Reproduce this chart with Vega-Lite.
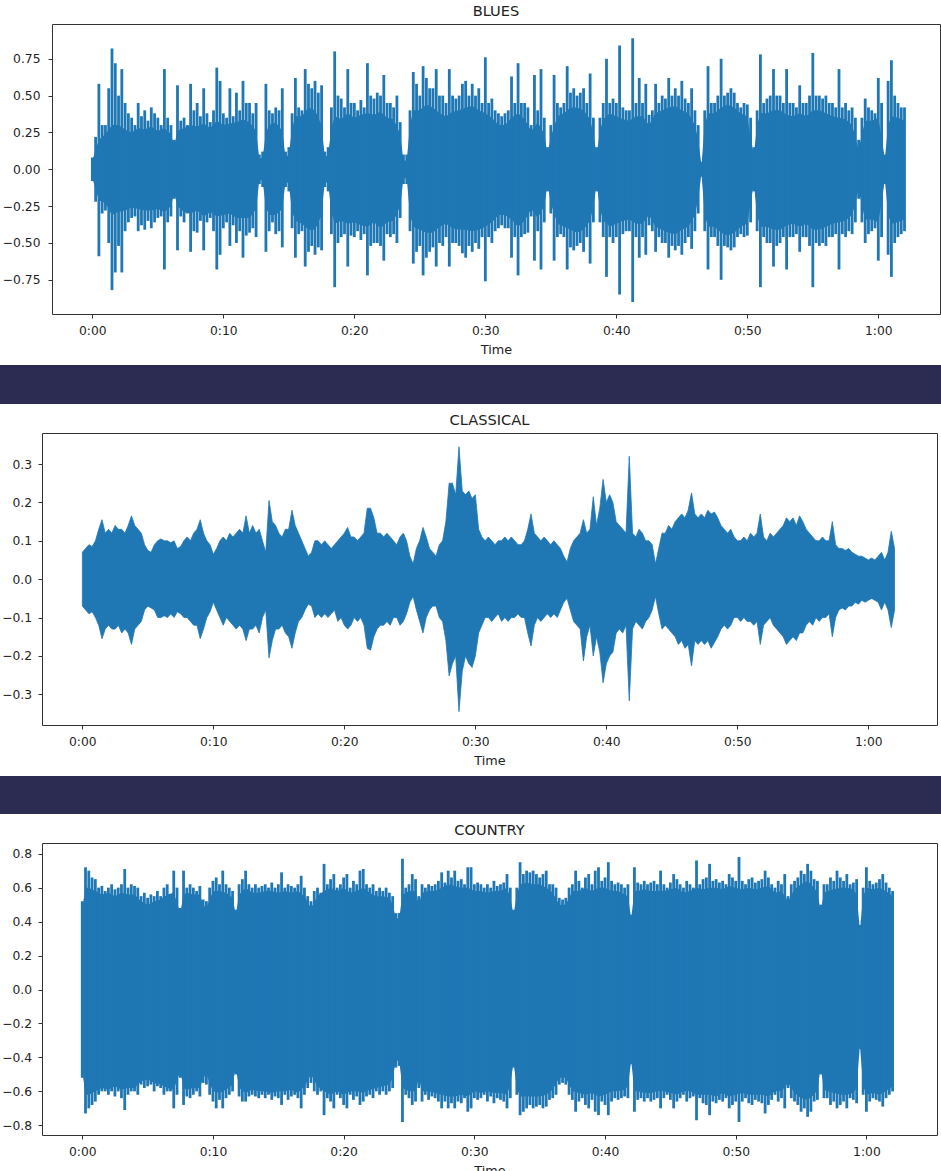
{
"$schema":"https://vega.github.io/schema/vega-lite/v6.json",
"padding":{"left":0,"top":3,"right":0,"bottom":0},
"background":"white",
"spacing":8,
"config":{
 "view":{"stroke":"#333333","strokeWidth":1},
 "axis":{"labelFont":"DejaVu Sans","labelFontSize":12.3,"labelColor":"#222222","titleFont":"DejaVu Sans","titleFontSize":12.8,"titleFontWeight":"normal","titleColor":"#222222","tickColor":"#333333","tickSize":4,"domain":false,"grid":false},
 "axisX":{"labelPadding":6,"titlePadding":7},
 "title":{"font":"DejaVu Sans","fontSize":14.6,"fontWeight":"normal","color":"#222222","offset":5,"baseline":"alphabetic","anchor":"middle"}
},
"datasets":{
"bluescore":[
{"t":0,"c":0.06,"n":-0.06},{"t":0.5,"c":0.2,"n":-0.21},{"t":1,"c":0.24,"n":-0.23},{"t":1.5,"c":0.3,"n":-0.31},{"t":2,"c":0.3,"n":-0.29},{"t":2.5,"c":0.27,"n":-0.28},{"t":3,"c":0.25,"n":-0.26},{"t":3.5,"c":0.28,"n":-0.27},{"t":4,"c":0.27,"n":-0.28},{"t":4.5,"c":0.29,"n":-0.28},{"t":5,"c":0.26,"n":-0.27},{"t":5.5,"c":0.28,"n":-0.29},{"t":6,"c":0.24,"n":-0.25},{"t":6.25,"c":0.16,"n":-0.16},{"t":6.5,"c":0.26,"n":-0.25},{"t":7,"c":0.28,"n":-0.29},{"t":7.5,"c":0.3,"n":-0.3},{"t":8,"c":0.29,"n":-0.28},{"t":8.5,"c":0.31,"n":-0.32},{"t":9,"c":0.28,"n":-0.29},{"t":9.5,"c":0.33,"n":-0.32},{"t":10,"c":0.3,"n":-0.31},{"t":10.5,"c":0.31,"n":-0.3},{"t":11,"c":0.32,"n":-0.33},{"t":11.5,"c":0.34,"n":-0.33},{"t":12,"c":0.32,"n":-0.33},{"t":12.5,"c":0.26,"n":-0.27},{"t":12.75,"c":0.07,"n":-0.07},{"t":13,"c":0.08,"n":-0.08},{"t":13.25,"c":0.25,"n":-0.26},{"t":13.5,"c":0.3,"n":-0.31},{"t":14,"c":0.32,"n":-0.31},{"t":14.5,"c":0.26,"n":-0.27},{"t":14.75,"c":0.08,"n":-0.08},{"t":15,"c":0.1,"n":-0.1},{"t":15.25,"c":0.28,"n":-0.29},{"t":15.5,"c":0.36,"n":-0.35},{"t":16,"c":0.36,"n":-0.37},{"t":16.5,"c":0.42,"n":-0.41},{"t":17,"c":0.4,"n":-0.41},{"t":17.5,"c":0.3,"n":-0.31},{"t":17.75,"c":0.08,"n":-0.08},{"t":18,"c":0.1,"n":-0.1},{"t":18.25,"c":0.28,"n":-0.29},{"t":18.5,"c":0.36,"n":-0.37},{"t":19,"c":0.34,"n":-0.35},{"t":19.5,"c":0.38,"n":-0.37},{"t":20,"c":0.35,"n":-0.36},{"t":20.5,"c":0.37,"n":-0.38},{"t":21,"c":0.38,"n":-0.39},{"t":21.5,"c":0.37,"n":-0.36},{"t":22,"c":0.39,"n":-0.4},{"t":22.5,"c":0.35,"n":-0.36},{"t":23,"c":0.34,"n":-0.35},{"t":23.5,"c":0.24,"n":-0.25},{"t":23.75,"c":0.06,"n":-0.06},{"t":24,"c":0.06,"n":-0.06},{"t":24.25,"c":0.3,"n":-0.31},{"t":24.5,"c":0.4,"n":-0.39},{"t":25,"c":0.4,"n":-0.41},{"t":25.5,"c":0.44,"n":-0.43},{"t":26,"c":0.42,"n":-0.43},{"t":26.5,"c":0.38,"n":-0.39},{"t":27,"c":0.36,"n":-0.37},{"t":27.5,"c":0.39,"n":-0.4},{"t":28,"c":0.4,"n":-0.41},{"t":28.5,"c":0.42,"n":-0.41},{"t":29,"c":0.43,"n":-0.42},{"t":29.5,"c":0.4,"n":-0.41},{"t":30,"c":0.38,"n":-0.39},{"t":30.5,"c":0.35,"n":-0.36},{"t":31,"c":0.3,"n":-0.31},{"t":31.5,"c":0.3,"n":-0.31},{"t":32,"c":0.35,"n":-0.34},{"t":32.5,"c":0.38,"n":-0.39},{"t":33,"c":0.34,"n":-0.35},{"t":33.5,"c":0.26,"n":-0.27},{"t":34,"c":0.32,"n":-0.33},{"t":34.5,"c":0.24,"n":-0.25},{"t":34.75,"c":0.1,"n":-0.1},{"t":35,"c":0.22,"n":-0.23},{"t":35.5,"c":0.36,"n":-0.37},{"t":36,"c":0.38,"n":-0.39},{"t":36.5,"c":0.42,"n":-0.41},{"t":37,"c":0.42,"n":-0.43},{"t":37.5,"c":0.4,"n":-0.41},{"t":38,"c":0.34,"n":-0.35},{"t":38.25,"c":0.24,"n":-0.25},{"t":38.5,"c":0.1,"n":-0.1},{"t":38.75,"c":0.26,"n":-0.27},{"t":39,"c":0.34,"n":-0.35},{"t":39.5,"c":0.38,"n":-0.39},{"t":40,"c":0.36,"n":-0.37},{"t":40.5,"c":0.34,"n":-0.35},{"t":41,"c":0.33,"n":-0.34},{"t":41.5,"c":0.36,"n":-0.37},{"t":42,"c":0.36,"n":-0.37},{"t":42.5,"c":0.3,"n":-0.31},{"t":43,"c":0.38,"n":-0.39},{"t":43.5,"c":0.4,"n":-0.41},{"t":44,"c":0.42,"n":-0.43},{"t":44.5,"c":0.43,"n":-0.44},{"t":45,"c":0.4,"n":-0.41},{"t":45.5,"c":0.38,"n":-0.39},{"t":46,"c":0.3,"n":-0.31},{"t":46.25,"c":0.2,"n":-0.2},{"t":46.5,"c":0.03,"n":-0.03},{"t":46.75,"c":0.3,"n":-0.31},{"t":47,"c":0.38,"n":-0.39},{"t":47.5,"c":0.38,"n":-0.39},{"t":48,"c":0.42,"n":-0.43},{"t":48.5,"c":0.44,"n":-0.45},{"t":49,"c":0.42,"n":-0.43},{"t":49.5,"c":0.38,"n":-0.39},{"t":50,"c":0.36,"n":-0.37},{"t":50.25,"c":0.22,"n":-0.23},{"t":50.5,"c":0.1,"n":-0.1},{"t":50.75,"c":0.3,"n":-0.31},{"t":51,"c":0.38,"n":-0.39},{"t":51.5,"c":0.38,"n":-0.39},{"t":52,"c":0.4,"n":-0.41},{"t":52.5,"c":0.4,"n":-0.41},{"t":53,"c":0.37,"n":-0.38},{"t":53.5,"c":0.36,"n":-0.37},{"t":54,"c":0.38,"n":-0.39},{"t":54.5,"c":0.36,"n":-0.37},{"t":55,"c":0.4,"n":-0.41},{"t":55.5,"c":0.4,"n":-0.41},{"t":56,"c":0.38,"n":-0.39},{"t":56.5,"c":0.36,"n":-0.37},{"t":57,"c":0.35,"n":-0.36},{"t":57.5,"c":0.34,"n":-0.35},{"t":58,"c":0.3,"n":-0.31},{"t":58.25,"c":0.22,"n":-0.23},{"t":58.5,"c":0.13,"n":-0.13},{"t":58.75,"c":0.24,"n":-0.25},{"t":59,"c":0.33,"n":-0.34},{"t":59.5,"c":0.33,"n":-0.34},{"t":60,"c":0.35,"n":-0.36},{"t":60.25,"c":0.22,"n":-0.23},{"t":60.5,"c":0.07,"n":-0.07},{"t":60.75,"c":0.3,"n":-0.31},{"t":61,"c":0.36,"n":-0.37},{"t":61.5,"c":0.35,"n":-0.36},{"t":62,"c":0.33,"n":-0.34}
],
"countrycore":[
{"t":0,"c":0.48,"n":-0.48},{"t":0.25,"c":0.6,"n":-0.62},{"t":0.5,"c":0.6,"n":-0.62},{"t":1,"c":0.58,"n":-0.6},{"t":1.5,"c":0.56,"n":-0.58},{"t":2,"c":0.57,"n":-0.59},{"t":2.5,"c":0.55,"n":-0.57},{"t":3,"c":0.57,"n":-0.59},{"t":3.5,"c":0.56,"n":-0.58},{"t":4,"c":0.56,"n":-0.58},{"t":4.5,"c":0.52,"n":-0.54},{"t":5,"c":0.5,"n":-0.53},{"t":5.5,"c":0.52,"n":-0.55},{"t":6,"c":0.53,"n":-0.56},{"t":6.5,"c":0.56,"n":-0.58},{"t":7,"c":0.57,"n":-0.59},{"t":7.5,"c":0.45,"n":-0.48},{"t":7.75,"c":0.56,"n":-0.58},{"t":8,"c":0.57,"n":-0.59},{"t":8.5,"c":0.56,"n":-0.58},{"t":9,"c":0.56,"n":-0.58},{"t":9.25,"c":0.5,"n":-0.52},{"t":9.5,"c":0.48,"n":-0.5},{"t":10,"c":0.58,"n":-0.6},{"t":10.5,"c":0.58,"n":-0.61},{"t":11,"c":0.57,"n":-0.59},{"t":11.5,"c":0.54,"n":-0.56},{"t":11.75,"c":0.44,"n":-0.46},{"t":12,"c":0.56,"n":-0.58},{"t":12.5,"c":0.6,"n":-0.61},{"t":13,"c":0.57,"n":-0.59},{"t":13.5,"c":0.57,"n":-0.6},{"t":14,"c":0.58,"n":-0.6},{"t":14.5,"c":0.58,"n":-0.61},{"t":15,"c":0.57,"n":-0.6},{"t":15.5,"c":0.58,"n":-0.6},{"t":16,"c":0.57,"n":-0.59},{"t":16.5,"c":0.58,"n":-0.61},{"t":17,"c":0.55,"n":-0.57},{"t":17.5,"c":0.48,"n":-0.5},{"t":18,"c":0.55,"n":-0.57},{"t":18.5,"c":0.58,"n":-0.6},{"t":19,"c":0.6,"n":-0.62},{"t":19.5,"c":0.58,"n":-0.6},{"t":20,"c":0.6,"n":-0.62},{"t":20.5,"c":0.57,"n":-0.6},{"t":21,"c":0.58,"n":-0.6},{"t":21.5,"c":0.6,"n":-0.61},{"t":22,"c":0.57,"n":-0.59},{"t":22.5,"c":0.55,"n":-0.58},{"t":23,"c":0.55,"n":-0.57},{"t":23.5,"c":0.54,"n":-0.56},{"t":23.75,"c":0.5,"n":-0.52},{"t":24,"c":0.42,"n":-0.42},{"t":24.25,"c":0.42,"n":-0.42},{"t":24.5,"c":0.56,"n":-0.58},{"t":25,"c":0.58,"n":-0.6},{"t":25.5,"c":0.58,"n":-0.6},{"t":25.75,"c":0.5,"n":-0.52},{"t":26,"c":0.57,"n":-0.6},{"t":26.5,"c":0.58,"n":-0.6},{"t":27,"c":0.58,"n":-0.61},{"t":27.5,"c":0.6,"n":-0.62},{"t":28,"c":0.62,"n":-0.63},{"t":28.5,"c":0.61,"n":-0.63},{"t":29,"c":0.6,"n":-0.62},{"t":29.5,"c":0.6,"n":-0.63},{"t":30,"c":0.58,"n":-0.6},{"t":30.5,"c":0.58,"n":-0.61},{"t":31,"c":0.57,"n":-0.6},{"t":31.5,"c":0.58,"n":-0.61},{"t":32,"c":0.58,"n":-0.61},{"t":32.5,"c":0.6,"n":-0.62},{"t":32.75,"c":0.54,"n":-0.56},{"t":33,"c":0.44,"n":-0.43},{"t":33.25,"c":0.56,"n":-0.58},{"t":33.5,"c":0.62,"n":-0.63},{"t":34,"c":0.63,"n":-0.63},{"t":34.5,"c":0.62,"n":-0.63},{"t":35,"c":0.62,"n":-0.63},{"t":35.5,"c":0.6,"n":-0.62},{"t":36,"c":0.57,"n":-0.59},{"t":36.5,"c":0.5,"n":-0.52},{"t":37,"c":0.5,"n":-0.52},{"t":37.5,"c":0.58,"n":-0.6},{"t":38,"c":0.58,"n":-0.61},{"t":38.5,"c":0.6,"n":-0.62},{"t":39,"c":0.58,"n":-0.61},{"t":39.5,"c":0.6,"n":-0.63},{"t":40,"c":0.6,"n":-0.62},{"t":40.5,"c":0.58,"n":-0.6},{"t":41,"c":0.58,"n":-0.6},{"t":41.5,"c":0.56,"n":-0.59},{"t":41.75,"c":0.55,"n":-0.57},{"t":42,"c":0.42,"n":-0.42},{"t":42.25,"c":0.58,"n":-0.6},{"t":42.5,"c":0.58,"n":-0.6},{"t":43,"c":0.59,"n":-0.61},{"t":43.5,"c":0.58,"n":-0.61},{"t":44,"c":0.58,"n":-0.6},{"t":44.5,"c":0.58,"n":-0.6},{"t":45,"c":0.59,"n":-0.61},{"t":45.5,"c":0.6,"n":-0.62},{"t":46,"c":0.57,"n":-0.6},{"t":46.5,"c":0.58,"n":-0.6},{"t":47,"c":0.6,"n":-0.62},{"t":47.5,"c":0.59,"n":-0.62},{"t":48,"c":0.6,"n":-0.62},{"t":48.5,"c":0.6,"n":-0.63},{"t":49,"c":0.59,"n":-0.61},{"t":49.5,"c":0.61,"n":-0.63},{"t":50,"c":0.6,"n":-0.62},{"t":50.5,"c":0.59,"n":-0.61},{"t":51,"c":0.6,"n":-0.62},{"t":51.5,"c":0.59,"n":-0.62},{"t":52,"c":0.6,"n":-0.62},{"t":52.5,"c":0.61,"n":-0.63},{"t":53,"c":0.57,"n":-0.6},{"t":53.5,"c":0.58,"n":-0.6},{"t":54,"c":0.52,"n":-0.55},{"t":54.5,"c":0.59,"n":-0.61},{"t":55,"c":0.62,"n":-0.64},{"t":55.5,"c":0.64,"n":-0.65},{"t":56,"c":0.6,"n":-0.62},{"t":56.25,"c":0.57,"n":-0.59},{"t":56.5,"c":0.46,"n":-0.46},{"t":56.75,"c":0.57,"n":-0.59},{"t":57,"c":0.58,"n":-0.6},{"t":57.5,"c":0.59,"n":-0.61},{"t":58,"c":0.6,"n":-0.62},{"t":58.5,"c":0.6,"n":-0.62},{"t":59,"c":0.59,"n":-0.61},{"t":59.25,"c":0.56,"n":-0.58},{"t":59.5,"c":0.35,"n":-0.33},{"t":59.75,"c":0.55,"n":-0.57},{"t":60,"c":0.6,"n":-0.62},{"t":60.5,"c":0.59,"n":-0.61},{"t":61,"c":0.6,"n":-0.62},{"t":61.5,"c":0.58,"n":-0.6},{"t":62,"c":0.55,"n":-0.57}
],
"blues":[
{"t":0,"h":0.08,"l":-0.08},{"t":0.25,"h":0.22,"l":-0.22},{"t":0.5,"h":0.58,"l":-0.59},{"t":0.75,"h":0.3,"l":-0.3},
{"t":1,"h":0.3,"l":-0.28},{"t":1.25,"h":0.55,"l":-0.5},{"t":1.5,"h":0.82,"l":-0.82},{"t":1.75,"h":0.72,"l":-0.7},
{"t":2,"h":0.5,"l":-0.52},{"t":2.25,"h":0.68,"l":-0.7},{"t":2.5,"h":0.45,"l":-0.42},{"t":2.75,"h":0.38,"l":-0.36},
{"t":3,"h":0.35,"l":-0.33},{"t":3.25,"h":0.3,"l":-0.32},{"t":3.5,"h":0.45,"l":-0.42},{"t":3.75,"h":0.36,"l":-0.38},
{"t":4,"h":0.4,"l":-0.41},{"t":4.25,"h":0.33,"l":-0.35},{"t":4.5,"h":0.42,"l":-0.4},{"t":4.75,"h":0.38,"l":-0.36},
{"t":5,"h":0.35,"l":-0.33},{"t":5.25,"h":0.3,"l":-0.32},{"t":5.5,"h":0.68,"l":-0.68},{"t":5.75,"h":0.35,"l":-0.36},
{"t":6,"h":0.3,"l":-0.32},{"t":6.25,"h":0.2,"l":-0.2},{"t":6.5,"h":0.57,"l":-0.55},{"t":6.75,"h":0.33,"l":-0.32},
{"t":7,"h":0.35,"l":-0.36},{"t":7.25,"h":0.3,"l":-0.3},{"t":7.5,"h":0.58,"l":-0.56},{"t":7.75,"h":0.4,"l":-0.42},
{"t":8,"h":0.45,"l":-0.43},{"t":8.25,"h":0.36,"l":-0.35},{"t":8.5,"h":0.55,"l":-0.55},{"t":8.75,"h":0.38,"l":-0.36},
{"t":9,"h":0.32,"l":-0.33},{"t":9.25,"h":0.4,"l":-0.42},{"t":9.5,"h":0.69,"l":-0.68},{"t":9.75,"h":0.6,"l":-0.58},
{"t":10,"h":0.38,"l":-0.4},{"t":10.25,"h":0.35,"l":-0.36},{"t":10.5,"h":0.55,"l":-0.52},{"t":10.75,"h":0.36,"l":-0.38},
{"t":11,"h":0.52,"l":-0.5},{"t":11.25,"h":0.4,"l":-0.42},{"t":11.5,"h":0.6,"l":-0.6},{"t":11.75,"h":0.45,"l":-0.45},
{"t":12,"h":0.45,"l":-0.43},{"t":12.25,"h":0.38,"l":-0.4},{"t":12.5,"h":0.45,"l":-0.46},{"t":12.75,"h":0.1,"l":-0.1},
{"t":13,"h":0.12,"l":-0.12},{"t":13.25,"h":0.58,"l":-0.56},{"t":13.5,"h":0.4,"l":-0.42},{"t":13.75,"h":0.38,"l":-0.36},
{"t":14,"h":0.42,"l":-0.44},{"t":14.25,"h":0.4,"l":-0.42},{"t":14.5,"h":0.55,"l":-0.53},{"t":14.75,"h":0.12,"l":-0.12},
{"t":15,"h":0.15,"l":-0.15},{"t":15.25,"h":0.38,"l":-0.4},{"t":15.5,"h":0.62,"l":-0.6},{"t":15.75,"h":0.42,"l":-0.44},
{"t":16,"h":0.4,"l":-0.42},{"t":16.25,"h":0.68,"l":-0.66},{"t":16.5,"h":0.58,"l":-0.56},{"t":16.75,"h":0.55,"l":-0.52},
{"t":17,"h":0.6,"l":-0.58},{"t":17.25,"h":0.52,"l":-0.53},{"t":17.5,"h":0.57,"l":-0.55},{"t":17.75,"h":0.12,"l":-0.12},
{"t":18,"h":0.15,"l":-0.15},{"t":18.25,"h":0.42,"l":-0.44},{"t":18.5,"h":0.8,"l":-0.8},{"t":18.75,"h":0.5,"l":-0.5},
{"t":19,"h":0.48,"l":-0.46},{"t":19.25,"h":0.42,"l":-0.44},{"t":19.5,"h":0.68,"l":-0.66},{"t":19.75,"h":0.45,"l":-0.45},
{"t":20,"h":0.45,"l":-0.46},{"t":20.25,"h":0.4,"l":-0.42},{"t":20.5,"h":0.47,"l":-0.48},{"t":20.75,"h":0.42,"l":-0.44},
{"t":21,"h":0.72,"l":-0.72},{"t":21.25,"h":0.5,"l":-0.52},{"t":21.5,"h":0.48,"l":-0.5},{"t":21.75,"h":0.52,"l":-0.5},
{"t":22,"h":0.5,"l":-0.52},{"t":22.25,"h":0.64,"l":-0.62},{"t":22.5,"h":0.45,"l":-0.44},{"t":22.75,"h":0.45,"l":-0.46},
{"t":23,"h":0.42,"l":-0.44},{"t":23.25,"h":0.5,"l":-0.5},{"t":23.5,"h":0.32,"l":-0.33},{"t":23.75,"h":0.1,"l":-0.1},
{"t":24,"h":0.1,"l":-0.1},{"t":24.25,"h":0.4,"l":-0.42},{"t":24.5,"h":0.66,"l":-0.64},{"t":24.75,"h":0.58,"l":-0.56},
{"t":25,"h":0.5,"l":-0.52},{"t":25.25,"h":0.7,"l":-0.72},{"t":25.5,"h":0.62,"l":-0.6},{"t":25.75,"h":0.55,"l":-0.56},
{"t":26,"h":0.55,"l":-0.53},{"t":26.25,"h":0.68,"l":-0.66},{"t":26.5,"h":0.5,"l":-0.5},{"t":26.75,"h":0.5,"l":-0.52},
{"t":27,"h":0.45,"l":-0.46},{"t":27.25,"h":0.68,"l":-0.66},{"t":27.5,"h":0.5,"l":-0.5},{"t":27.75,"h":0.48,"l":-0.5},
{"t":28,"h":0.5,"l":-0.52},{"t":28.25,"h":0.58,"l":-0.57},{"t":28.5,"h":0.6,"l":-0.6},{"t":28.75,"h":0.5,"l":-0.52},
{"t":29,"h":0.58,"l":-0.56},{"t":29.25,"h":0.5,"l":-0.5},{"t":29.5,"h":0.55,"l":-0.54},{"t":29.75,"h":0.45,"l":-0.46},
{"t":30,"h":0.76,"l":-0.76},{"t":30.25,"h":0.45,"l":-0.46},{"t":30.5,"h":0.48,"l":-0.5},{"t":30.75,"h":0.4,"l":-0.42},
{"t":31,"h":0.38,"l":-0.4},{"t":31.25,"h":0.36,"l":-0.38},{"t":31.5,"h":0.38,"l":-0.4},{"t":31.75,"h":0.4,"l":-0.4},
{"t":32,"h":0.63,"l":-0.6},{"t":32.25,"h":0.45,"l":-0.46},{"t":32.5,"h":0.72,"l":-0.72},{"t":32.75,"h":0.45,"l":-0.46},
{"t":33,"h":0.45,"l":-0.44},{"t":33.25,"h":0.42,"l":-0.43},{"t":33.5,"h":0.3,"l":-0.32},{"t":33.75,"h":0.64,"l":-0.62},
{"t":34,"h":0.4,"l":-0.42},{"t":34.25,"h":0.68,"l":-0.68},{"t":34.5,"h":0.35,"l":-0.36},{"t":34.75,"h":0.15,"l":-0.15},
{"t":35,"h":0.3,"l":-0.3},{"t":35.25,"h":0.64,"l":-0.62},{"t":35.5,"h":0.45,"l":-0.46},{"t":35.75,"h":0.42,"l":-0.44},
{"t":36,"h":0.45,"l":-0.46},{"t":36.25,"h":0.7,"l":-0.68},{"t":36.5,"h":0.52,"l":-0.53},{"t":36.75,"h":0.55,"l":-0.55},
{"t":37,"h":0.5,"l":-0.52},{"t":37.25,"h":0.52,"l":-0.5},{"t":37.5,"h":0.55,"l":-0.56},{"t":37.75,"h":0.45,"l":-0.46},
{"t":38,"h":0.65,"l":-0.64},{"t":38.25,"h":0.35,"l":-0.36},{"t":38.5,"h":0.15,"l":-0.15},{"t":38.75,"h":0.35,"l":-0.36},
{"t":39,"h":0.45,"l":-0.46},{"t":39.25,"h":0.75,"l":-0.73},{"t":39.5,"h":0.45,"l":-0.46},{"t":39.75,"h":0.48,"l":-0.5},
{"t":40,"h":0.45,"l":-0.46},{"t":40.25,"h":0.84,"l":-0.85},{"t":40.5,"h":0.42,"l":-0.44},{"t":40.75,"h":0.4,"l":-0.42},
{"t":41,"h":0.4,"l":-0.42},{"t":41.25,"h":0.89,"l":-0.9},{"t":41.5,"h":0.45,"l":-0.46},{"t":41.75,"h":0.62,"l":-0.6},
{"t":42,"h":0.45,"l":-0.46},{"t":42.25,"h":0.58,"l":-0.58},{"t":42.5,"h":0.37,"l":-0.38},{"t":42.75,"h":0.4,"l":-0.42},
{"t":43,"h":0.58,"l":-0.56},{"t":43.25,"h":0.45,"l":-0.46},{"t":43.5,"h":0.5,"l":-0.5},{"t":43.75,"h":0.48,"l":-0.5},
{"t":44,"h":0.62,"l":-0.6},{"t":44.25,"h":0.5,"l":-0.52},{"t":44.5,"h":0.55,"l":-0.55},{"t":44.75,"h":0.5,"l":-0.52},
{"t":45,"h":0.6,"l":-0.58},{"t":45.25,"h":0.48,"l":-0.5},{"t":45.5,"h":0.45,"l":-0.46},{"t":45.75,"h":0.55,"l":-0.54},
{"t":46,"h":0.4,"l":-0.42},{"t":46.25,"h":0.3,"l":-0.3},{"t":46.5,"h":0.05,"l":-0.05},{"t":46.75,"h":0.4,"l":-0.42},
{"t":47,"h":0.7,"l":-0.68},{"t":47.25,"h":0.45,"l":-0.46},{"t":47.5,"h":0.45,"l":-0.46},{"t":47.75,"h":0.5,"l":-0.52},
{"t":48,"h":0.75,"l":-0.75},{"t":48.25,"h":0.5,"l":-0.52},{"t":48.5,"h":0.52,"l":-0.53},{"t":48.75,"h":0.55,"l":-0.55},
{"t":49,"h":0.52,"l":-0.53},{"t":49.25,"h":0.45,"l":-0.46},{"t":49.5,"h":0.42,"l":-0.44},{"t":49.75,"h":0.45,"l":-0.46},
{"t":50,"h":0.44,"l":-0.45},{"t":50.25,"h":0.35,"l":-0.36},{"t":50.5,"h":0.15,"l":-0.15},{"t":50.75,"h":0.4,"l":-0.42},
{"t":51,"h":0.78,"l":-0.8},{"t":51.25,"h":0.45,"l":-0.46},{"t":51.5,"h":0.48,"l":-0.5},{"t":51.75,"h":0.5,"l":-0.5},
{"t":52,"h":0.68,"l":-0.66},{"t":52.25,"h":0.5,"l":-0.52},{"t":52.5,"h":0.5,"l":-0.5},{"t":52.75,"h":0.45,"l":-0.46},
{"t":53,"h":0.68,"l":-0.68},{"t":53.25,"h":0.45,"l":-0.46},{"t":53.5,"h":0.45,"l":-0.46},{"t":53.75,"h":0.42,"l":-0.44},
{"t":54,"h":0.57,"l":-0.56},{"t":54.25,"h":0.45,"l":-0.46},{"t":54.5,"h":0.45,"l":-0.46},{"t":54.75,"h":0.5,"l":-0.52},
{"t":55,"h":0.79,"l":-0.8},{"t":55.25,"h":0.5,"l":-0.5},{"t":55.5,"h":0.5,"l":-0.52},{"t":55.75,"h":0.48,"l":-0.5},
{"t":56,"h":0.5,"l":-0.52},{"t":56.25,"h":0.45,"l":-0.46},{"t":56.5,"h":0.45,"l":-0.46},{"t":56.75,"h":0.42,"l":-0.44},
{"t":57,"h":0.68,"l":-0.68},{"t":57.25,"h":0.42,"l":-0.44},{"t":57.5,"h":0.45,"l":-0.46},{"t":57.75,"h":0.4,"l":-0.42},
{"t":58,"h":0.42,"l":-0.44},{"t":58.25,"h":0.35,"l":-0.36},{"t":58.5,"h":0.2,"l":-0.2},{"t":58.75,"h":0.35,"l":-0.36},
{"t":59,"h":0.48,"l":-0.5},{"t":59.25,"h":0.42,"l":-0.44},{"t":59.5,"h":0.4,"l":-0.42},{"t":59.75,"h":0.38,"l":-0.4},
{"t":60,"h":0.62,"l":-0.62},{"t":60.25,"h":0.45,"l":-0.46},{"t":60.5,"h":0.1,"l":-0.1},{"t":60.75,"h":0.6,"l":-0.58},
{"t":61,"h":0.74,"l":-0.73},{"t":61.25,"h":0.5,"l":-0.5},{"t":61.5,"h":0.45,"l":-0.46},{"t":61.75,"h":0.42,"l":-0.44},
{"t":62,"h":0.42,"l":-0.42}
],
"classical":[
{"t":0,"h":0.07,"l":-0.07},{"t":0.25,"h":0.08,"l":-0.08},{"t":0.5,"h":0.09,"l":-0.09},{"t":0.75,"h":0.085,"l":-0.085},
{"t":1,"h":0.1,"l":-0.1},{"t":1.25,"h":0.13,"l":-0.12},{"t":1.5,"h":0.155,"l":-0.155},{"t":1.75,"h":0.12,"l":-0.13},
{"t":2,"h":0.13,"l":-0.12},{"t":2.25,"h":0.12,"l":-0.13},{"t":2.5,"h":0.14,"l":-0.13},{"t":2.75,"h":0.13,"l":-0.12},
{"t":3,"h":0.13,"l":-0.14},{"t":3.25,"h":0.12,"l":-0.13},{"t":3.5,"h":0.14,"l":-0.14},{"t":3.75,"h":0.165,"l":-0.17},
{"t":4,"h":0.14,"l":-0.13},{"t":4.25,"h":0.13,"l":-0.12},{"t":4.5,"h":0.12,"l":-0.11},{"t":4.75,"h":0.09,"l":-0.08},
{"t":5,"h":0.075,"l":-0.07},{"t":5.25,"h":0.07,"l":-0.075},{"t":5.5,"h":0.09,"l":-0.08},{"t":5.75,"h":0.1,"l":-0.1},
{"t":6,"h":0.105,"l":-0.1},{"t":6.25,"h":0.1,"l":-0.095},{"t":6.5,"h":0.1,"l":-0.1},{"t":6.75,"h":0.095,"l":-0.09},
{"t":7,"h":0.1,"l":-0.1},{"t":7.25,"h":0.08,"l":-0.085},{"t":7.5,"h":0.085,"l":-0.09},{"t":7.75,"h":0.1,"l":-0.1},
{"t":8,"h":0.11,"l":-0.1},{"t":8.25,"h":0.1,"l":-0.11},{"t":8.5,"h":0.12,"l":-0.12},{"t":8.75,"h":0.13,"l":-0.12},
{"t":9,"h":0.155,"l":-0.155},{"t":9.25,"h":0.12,"l":-0.13},{"t":9.5,"h":0.1,"l":-0.1},{"t":9.75,"h":0.09,"l":-0.085},
{"t":10,"h":0.065,"l":-0.06},{"t":10.25,"h":0.08,"l":-0.08},{"t":10.5,"h":0.1,"l":-0.1},{"t":10.75,"h":0.11,"l":-0.12},
{"t":11,"h":0.1,"l":-0.1},{"t":11.25,"h":0.12,"l":-0.11},{"t":11.5,"h":0.11,"l":-0.12},{"t":11.75,"h":0.12,"l":-0.13},
{"t":12,"h":0.13,"l":-0.12},{"t":12.25,"h":0.12,"l":-0.13},{"t":12.5,"h":0.165,"l":-0.16},{"t":12.75,"h":0.12,"l":-0.13},
{"t":13,"h":0.14,"l":-0.13},{"t":13.25,"h":0.12,"l":-0.12},{"t":13.5,"h":0.13,"l":-0.14},{"t":13.75,"h":0.1,"l":-0.1},
{"t":14,"h":0.07,"l":-0.08},{"t":14.25,"h":0.205,"l":-0.205},{"t":14.5,"h":0.15,"l":-0.16},{"t":14.75,"h":0.14,"l":-0.13},
{"t":15,"h":0.12,"l":-0.13},{"t":15.25,"h":0.11,"l":-0.12},{"t":15.5,"h":0.13,"l":-0.14},{"t":15.75,"h":0.13,"l":-0.15},
{"t":16,"h":0.18,"l":-0.18},{"t":16.25,"h":0.14,"l":-0.14},{"t":16.5,"h":0.12,"l":-0.11},{"t":16.75,"h":0.1,"l":-0.1},
{"t":17,"h":0.08,"l":-0.08},{"t":17.25,"h":0.06,"l":-0.065},{"t":17.5,"h":0.07,"l":-0.07},{"t":17.75,"h":0.1,"l":-0.1},
{"t":18,"h":0.1,"l":-0.09},{"t":18.25,"h":0.09,"l":-0.1},{"t":18.5,"h":0.1,"l":-0.09},{"t":18.75,"h":0.09,"l":-0.1},
{"t":19,"h":0.08,"l":-0.09},{"t":19.25,"h":0.09,"l":-0.08},{"t":19.5,"h":0.1,"l":-0.11},{"t":19.75,"h":0.11,"l":-0.1},
{"t":20,"h":0.12,"l":-0.12},{"t":20.25,"h":0.135,"l":-0.13},{"t":20.5,"h":0.11,"l":-0.12},{"t":20.75,"h":0.11,"l":-0.1},
{"t":21,"h":0.1,"l":-0.11},{"t":21.25,"h":0.11,"l":-0.1},{"t":21.5,"h":0.12,"l":-0.12},{"t":21.75,"h":0.185,"l":-0.18},
{"t":22,"h":0.185,"l":-0.185},{"t":22.25,"h":0.16,"l":-0.15},{"t":22.5,"h":0.12,"l":-0.13},{"t":22.75,"h":0.12,"l":-0.12},
{"t":23,"h":0.11,"l":-0.12},{"t":23.25,"h":0.12,"l":-0.11},{"t":23.5,"h":0.11,"l":-0.12},{"t":23.75,"h":0.1,"l":-0.1},
{"t":24,"h":0.09,"l":-0.1},{"t":24.25,"h":0.11,"l":-0.12},{"t":24.5,"h":0.12,"l":-0.11},{"t":24.75,"h":0.1,"l":-0.09},
{"t":25,"h":0.06,"l":-0.06},{"t":25.25,"h":0.04,"l":-0.045},{"t":25.5,"h":0.08,"l":-0.08},{"t":25.75,"h":0.1,"l":-0.11},
{"t":26,"h":0.135,"l":-0.14},{"t":26.25,"h":0.11,"l":-0.1},{"t":26.5,"h":0.08,"l":-0.08},{"t":26.75,"h":0.07,"l":-0.07},
{"t":27,"h":0.06,"l":-0.07},{"t":27.25,"h":0.09,"l":-0.1},{"t":27.5,"h":0.1,"l":-0.11},{"t":27.75,"h":0.15,"l":-0.16},
{"t":28,"h":0.25,"l":-0.252},{"t":28.25,"h":0.25,"l":-0.22},{"t":28.5,"h":0.22,"l":-0.2},{"t":28.75,"h":0.345,"l":-0.345},
{"t":29,"h":0.23,"l":-0.24},{"t":29.25,"h":0.22,"l":-0.2},{"t":29.5,"h":0.23,"l":-0.22},{"t":29.75,"h":0.21,"l":-0.23},
{"t":30,"h":0.22,"l":-0.2},{"t":30.25,"h":0.13,"l":-0.14},{"t":30.5,"h":0.11,"l":-0.12},{"t":30.75,"h":0.1,"l":-0.1},
{"t":31,"h":0.11,"l":-0.1},{"t":31.25,"h":0.1,"l":-0.11},{"t":31.5,"h":0.09,"l":-0.1},{"t":31.75,"h":0.1,"l":-0.09},
{"t":32,"h":0.1,"l":-0.11},{"t":32.25,"h":0.11,"l":-0.1},{"t":32.5,"h":0.1,"l":-0.11},{"t":32.75,"h":0.11,"l":-0.1},
{"t":33,"h":0.1,"l":-0.1},{"t":33.25,"h":0.09,"l":-0.09},{"t":33.5,"h":0.09,"l":-0.1},{"t":33.75,"h":0.1,"l":-0.1},
{"t":34,"h":0.13,"l":-0.14},{"t":34.25,"h":0.17,"l":-0.174},{"t":34.5,"h":0.12,"l":-0.12},{"t":34.75,"h":0.11,"l":-0.1},
{"t":35,"h":0.1,"l":-0.11},{"t":35.25,"h":0.11,"l":-0.1},{"t":35.5,"h":0.1,"l":-0.09},{"t":35.75,"h":0.09,"l":-0.1},
{"t":36,"h":0.1,"l":-0.09},{"t":36.25,"h":0.09,"l":-0.1},{"t":36.5,"h":0.08,"l":-0.08},{"t":36.75,"h":0.06,"l":-0.06},
{"t":37,"h":0.045,"l":-0.05},{"t":37.25,"h":0.08,"l":-0.08},{"t":37.5,"h":0.1,"l":-0.11},{"t":37.75,"h":0.11,"l":-0.12},
{"t":38,"h":0.12,"l":-0.13},{"t":38.25,"h":0.155,"l":-0.213},{"t":38.5,"h":0.12,"l":-0.15},{"t":38.75,"h":0.13,"l":-0.12},
{"t":39,"h":0.215,"l":-0.2},{"t":39.25,"h":0.14,"l":-0.15},{"t":39.5,"h":0.185,"l":-0.19},{"t":39.75,"h":0.26,"l":-0.27},
{"t":40,"h":0.2,"l":-0.22},{"t":40.25,"h":0.22,"l":-0.2},{"t":40.5,"h":0.2,"l":-0.19},{"t":40.75,"h":0.15,"l":-0.14},
{"t":41,"h":0.14,"l":-0.13},{"t":41.25,"h":0.13,"l":-0.14},{"t":41.5,"h":0.12,"l":-0.12},{"t":41.75,"h":0.32,"l":-0.317},
{"t":42,"h":0.12,"l":-0.13},{"t":42.25,"h":0.11,"l":-0.11},{"t":42.5,"h":0.13,"l":-0.12},{"t":42.75,"h":0.12,"l":-0.13},
{"t":43,"h":0.1,"l":-0.11},{"t":43.25,"h":0.1,"l":-0.1},{"t":43.5,"h":0.09,"l":-0.08},{"t":43.75,"h":0.04,"l":-0.045},
{"t":44,"h":0.08,"l":-0.09},{"t":44.25,"h":0.12,"l":-0.13},{"t":44.5,"h":0.12,"l":-0.12},{"t":44.75,"h":0.14,"l":-0.13},
{"t":45,"h":0.13,"l":-0.14},{"t":45.25,"h":0.15,"l":-0.15},{"t":45.5,"h":0.16,"l":-0.17},{"t":45.75,"h":0.17,"l":-0.16},
{"t":46,"h":0.16,"l":-0.18},{"t":46.25,"h":0.18,"l":-0.17},{"t":46.5,"h":0.225,"l":-0.226},{"t":46.75,"h":0.17,"l":-0.16},
{"t":47,"h":0.16,"l":-0.17},{"t":47.25,"h":0.17,"l":-0.16},{"t":47.5,"h":0.16,"l":-0.17},{"t":47.75,"h":0.18,"l":-0.16},
{"t":48,"h":0.17,"l":-0.18},{"t":48.25,"h":0.175,"l":-0.165},{"t":48.5,"h":0.16,"l":-0.15},{"t":48.75,"h":0.14,"l":-0.13},
{"t":49,"h":0.13,"l":-0.12},{"t":49.25,"h":0.12,"l":-0.13},{"t":49.5,"h":0.13,"l":-0.12},{"t":49.75,"h":0.11,"l":-0.1},
{"t":50,"h":0.1,"l":-0.1},{"t":50.25,"h":0.1,"l":-0.11},{"t":50.5,"h":0.11,"l":-0.1},{"t":50.75,"h":0.1,"l":-0.11},
{"t":51,"h":0.12,"l":-0.11},{"t":51.25,"h":0.11,"l":-0.12},{"t":51.5,"h":0.12,"l":-0.11},{"t":51.75,"h":0.17,"l":-0.17},
{"t":52,"h":0.11,"l":-0.12},{"t":52.25,"h":0.1,"l":-0.11},{"t":52.5,"h":0.12,"l":-0.1},{"t":52.75,"h":0.11,"l":-0.12},
{"t":53,"h":0.12,"l":-0.13},{"t":53.25,"h":0.13,"l":-0.14},{"t":53.5,"h":0.14,"l":-0.15},{"t":53.75,"h":0.16,"l":-0.17},
{"t":54,"h":0.15,"l":-0.16},{"t":54.25,"h":0.16,"l":-0.15},{"t":54.5,"h":0.14,"l":-0.16},{"t":54.75,"h":0.165,"l":-0.14},
{"t":55,"h":0.15,"l":-0.14},{"t":55.25,"h":0.13,"l":-0.12},{"t":55.5,"h":0.12,"l":-0.11},{"t":55.75,"h":0.11,"l":-0.12},
{"t":56,"h":0.1,"l":-0.1},{"t":56.25,"h":0.1,"l":-0.11},{"t":56.5,"h":0.11,"l":-0.1},{"t":56.75,"h":0.1,"l":-0.1},
{"t":57,"h":0.1,"l":-0.09},{"t":57.25,"h":0.15,"l":-0.15},{"t":57.5,"h":0.09,"l":-0.1},{"t":57.75,"h":0.08,"l":-0.08},
{"t":58,"h":0.08,"l":-0.075},{"t":58.25,"h":0.075,"l":-0.08},{"t":58.5,"h":0.08,"l":-0.07},{"t":58.75,"h":0.07,"l":-0.07},
{"t":59,"h":0.065,"l":-0.06},{"t":59.25,"h":0.06,"l":-0.065},{"t":59.5,"h":0.06,"l":-0.055},{"t":59.75,"h":0.055,"l":-0.06},
{"t":60,"h":0.05,"l":-0.055},{"t":60.25,"h":0.055,"l":-0.05},{"t":60.5,"h":0.05,"l":-0.055},{"t":60.75,"h":0.06,"l":-0.06},
{"t":61,"h":0.07,"l":-0.08},{"t":61.25,"h":0.05,"l":-0.06},{"t":61.5,"h":0.07,"l":-0.08},{"t":61.75,"h":0.125,"l":-0.126},
{"t":62,"h":0.08,"l":-0.08}
],
"country":[
{"t":0,"h":0.52,"l":-0.52},{"t":0.25,"h":0.72,"l":-0.73},{"t":0.5,"h":0.7,"l":-0.7},{"t":0.75,"h":0.66,"l":-0.68},
{"t":1,"h":0.65,"l":-0.66},{"t":1.25,"h":0.6,"l":-0.62},{"t":1.5,"h":0.61,"l":-0.6},{"t":1.75,"h":0.58,"l":-0.6},
{"t":2,"h":0.6,"l":-0.62},{"t":2.25,"h":0.62,"l":-0.6},{"t":2.5,"h":0.59,"l":-0.63},{"t":2.75,"h":0.6,"l":-0.6},
{"t":3,"h":0.62,"l":-0.64},{"t":3.25,"h":0.71,"l":-0.71},{"t":3.5,"h":0.6,"l":-0.62},{"t":3.75,"h":0.62,"l":-0.6},
{"t":4,"h":0.61,"l":-0.6},{"t":4.25,"h":0.6,"l":-0.62},{"t":4.5,"h":0.55,"l":-0.56},{"t":4.75,"h":0.57,"l":-0.58},
{"t":5,"h":0.54,"l":-0.57},{"t":5.25,"h":0.56,"l":-0.56},{"t":5.5,"h":0.55,"l":-0.6},{"t":5.75,"h":0.58,"l":-0.57},
{"t":6,"h":0.55,"l":-0.58},{"t":6.25,"h":0.6,"l":-0.62},{"t":6.5,"h":0.62,"l":-0.6},{"t":6.75,"h":0.56,"l":-0.6},
{"t":7,"h":0.7,"l":-0.7},{"t":7.25,"h":0.6,"l":-0.62},{"t":7.5,"h":0.48,"l":-0.52},{"t":7.75,"h":0.7,"l":-0.68},
{"t":8,"h":0.6,"l":-0.63},{"t":8.25,"h":0.62,"l":-0.64},{"t":8.5,"h":0.6,"l":-0.62},{"t":8.75,"h":0.58,"l":-0.6},
{"t":9,"h":0.61,"l":-0.63},{"t":9.25,"h":0.53,"l":-0.55},{"t":9.5,"h":0.52,"l":-0.56},{"t":9.75,"h":0.6,"l":-0.62},
{"t":10,"h":0.64,"l":-0.66},{"t":10.25,"h":0.66,"l":-0.7},{"t":10.5,"h":0.62,"l":-0.65},{"t":10.75,"h":0.7,"l":-0.7},
{"t":11,"h":0.62,"l":-0.64},{"t":11.25,"h":0.6,"l":-0.62},{"t":11.5,"h":0.58,"l":-0.6},{"t":11.75,"h":0.47,"l":-0.5},
{"t":12,"h":0.62,"l":-0.63},{"t":12.25,"h":0.65,"l":-0.66},{"t":12.5,"h":0.7,"l":-0.66},{"t":12.75,"h":0.62,"l":-0.63},
{"t":13,"h":0.6,"l":-0.62},{"t":13.25,"h":0.62,"l":-0.63},{"t":13.5,"h":0.6,"l":-0.64},{"t":13.75,"h":0.61,"l":-0.62},
{"t":14,"h":0.62,"l":-0.64},{"t":14.25,"h":0.6,"l":-0.62},{"t":14.5,"h":0.63,"l":-0.65},{"t":14.75,"h":0.6,"l":-0.63},
{"t":15,"h":0.62,"l":-0.64},{"t":15.25,"h":0.69,"l":-0.68},{"t":15.5,"h":0.6,"l":-0.62},{"t":15.75,"h":0.62,"l":-0.65},
{"t":16,"h":0.61,"l":-0.63},{"t":16.25,"h":0.6,"l":-0.62},{"t":16.5,"h":0.62,"l":-0.64},{"t":16.75,"h":0.67,"l":-0.7},
{"t":17,"h":0.6,"l":-0.62},{"t":17.25,"h":0.55,"l":-0.58},{"t":17.5,"h":0.52,"l":-0.55},{"t":17.75,"h":0.58,"l":-0.6},
{"t":18,"h":0.6,"l":-0.62},{"t":18.25,"h":0.57,"l":-0.6},{"t":18.5,"h":0.74,"l":-0.74},{"t":18.75,"h":0.62,"l":-0.64},
{"t":19,"h":0.65,"l":-0.66},{"t":19.25,"h":0.68,"l":-0.7},{"t":19.5,"h":0.6,"l":-0.62},{"t":19.75,"h":0.62,"l":-0.64},
{"t":20,"h":0.66,"l":-0.68},{"t":20.25,"h":0.68,"l":-0.7},{"t":20.5,"h":0.6,"l":-0.62},{"t":20.75,"h":0.64,"l":-0.65},
{"t":21,"h":0.62,"l":-0.63},{"t":21.25,"h":0.7,"l":-0.68},{"t":21.5,"h":0.71,"l":-0.66},{"t":21.75,"h":0.62,"l":-0.63},
{"t":22,"h":0.6,"l":-0.62},{"t":22.25,"h":0.62,"l":-0.64},{"t":22.5,"h":0.58,"l":-0.6},{"t":22.75,"h":0.6,"l":-0.62},
{"t":23,"h":0.58,"l":-0.6},{"t":23.25,"h":0.6,"l":-0.62},{"t":23.5,"h":0.57,"l":-0.6},{"t":23.75,"h":0.55,"l":-0.58},
{"t":24,"h":0.45,"l":-0.46},{"t":24.25,"h":0.45,"l":-0.45},{"t":24.5,"h":0.77,"l":-0.78},{"t":24.75,"h":0.6,"l":-0.62},
{"t":25,"h":0.62,"l":-0.64},{"t":25.25,"h":0.68,"l":-0.68},{"t":25.5,"h":0.65,"l":-0.66},{"t":25.75,"h":0.55,"l":-0.58},
{"t":26,"h":0.62,"l":-0.66},{"t":26.25,"h":0.6,"l":-0.62},{"t":26.5,"h":0.62,"l":-0.65},{"t":26.75,"h":0.61,"l":-0.63},
{"t":27,"h":0.62,"l":-0.64},{"t":27.25,"h":0.64,"l":-0.66},{"t":27.5,"h":0.69,"l":-0.7},{"t":27.75,"h":0.63,"l":-0.66},
{"t":28,"h":0.7,"l":-0.7},{"t":28.25,"h":0.66,"l":-0.67},{"t":28.5,"h":0.7,"l":-0.7},{"t":28.75,"h":0.64,"l":-0.66},
{"t":29,"h":0.65,"l":-0.67},{"t":29.25,"h":0.62,"l":-0.64},{"t":29.5,"h":0.72,"l":-0.72},{"t":29.75,"h":0.72,"l":-0.7},
{"t":30,"h":0.62,"l":-0.64},{"t":30.25,"h":0.63,"l":-0.65},{"t":30.5,"h":0.62,"l":-0.64},{"t":30.75,"h":0.6,"l":-0.62},
{"t":31,"h":0.62,"l":-0.66},{"t":31.25,"h":0.6,"l":-0.63},{"t":31.5,"h":0.64,"l":-0.67},{"t":31.75,"h":0.61,"l":-0.64},
{"t":32,"h":0.62,"l":-0.65},{"t":32.25,"h":0.63,"l":-0.66},{"t":32.5,"h":0.68,"l":-0.7},{"t":32.75,"h":0.6,"l":-0.64},
{"t":33,"h":0.47,"l":-0.46},{"t":33.25,"h":0.6,"l":-0.62},{"t":33.5,"h":0.75,"l":-0.74},{"t":33.75,"h":0.68,"l":-0.72},
{"t":34,"h":0.7,"l":-0.7},{"t":34.25,"h":0.69,"l":-0.68},{"t":34.5,"h":0.7,"l":-0.7},{"t":34.75,"h":0.68,"l":-0.69},
{"t":35,"h":0.66,"l":-0.68},{"t":35.25,"h":0.68,"l":-0.7},{"t":35.5,"h":0.7,"l":-0.69},{"t":35.75,"h":0.62,"l":-0.65},
{"t":36,"h":0.62,"l":-0.64},{"t":36.25,"h":0.6,"l":-0.62},{"t":36.5,"h":0.54,"l":-0.56},{"t":36.75,"h":0.53,"l":-0.55},
{"t":37,"h":0.54,"l":-0.56},{"t":37.25,"h":0.6,"l":-0.62},{"t":37.5,"h":0.62,"l":-0.65},{"t":37.75,"h":0.7,"l":-0.72},
{"t":38,"h":0.64,"l":-0.66},{"t":38.25,"h":0.6,"l":-0.64},{"t":38.5,"h":0.66,"l":-0.68},{"t":38.75,"h":0.68,"l":-0.7},
{"t":39,"h":0.62,"l":-0.65},{"t":39.25,"h":0.7,"l":-0.72},{"t":39.5,"h":0.72,"l":-0.74},{"t":39.75,"h":0.64,"l":-0.66},
{"t":40,"h":0.66,"l":-0.68},{"t":40.25,"h":0.75,"l":-0.74},{"t":40.5,"h":0.64,"l":-0.66},{"t":40.75,"h":0.62,"l":-0.64},
{"t":41,"h":0.63,"l":-0.65},{"t":41.25,"h":0.62,"l":-0.64},{"t":41.5,"h":0.6,"l":-0.63},{"t":41.75,"h":0.62,"l":-0.64},
{"t":42,"h":0.44,"l":-0.44},{"t":42.25,"h":0.72,"l":-0.72},{"t":42.5,"h":0.63,"l":-0.65},{"t":42.75,"h":0.62,"l":-0.64},
{"t":43,"h":0.64,"l":-0.66},{"t":43.25,"h":0.62,"l":-0.64},{"t":43.5,"h":0.63,"l":-0.66},{"t":43.75,"h":0.64,"l":-0.65},
{"t":44,"h":0.62,"l":-0.64},{"t":44.25,"h":0.7,"l":-0.7},{"t":44.5,"h":0.62,"l":-0.64},{"t":44.75,"h":0.6,"l":-0.62},
{"t":45,"h":0.63,"l":-0.65},{"t":45.25,"h":0.68,"l":-0.7},{"t":45.5,"h":0.65,"l":-0.66},{"t":45.75,"h":0.62,"l":-0.64},
{"t":46,"h":0.6,"l":-0.62},{"t":46.25,"h":0.64,"l":-0.66},{"t":46.5,"h":0.62,"l":-0.64},{"t":46.75,"h":0.6,"l":-0.63},
{"t":47,"h":0.76,"l":-0.77},{"t":47.25,"h":0.62,"l":-0.64},{"t":47.5,"h":0.65,"l":-0.67},{"t":47.75,"h":0.66,"l":-0.68},
{"t":48,"h":0.74,"l":-0.74},{"t":48.25,"h":0.64,"l":-0.66},{"t":48.5,"h":0.65,"l":-0.67},{"t":48.75,"h":0.63,"l":-0.65},
{"t":49,"h":0.64,"l":-0.66},{"t":49.25,"h":0.62,"l":-0.64},{"t":49.5,"h":0.68,"l":-0.7},{"t":49.75,"h":0.66,"l":-0.68},
{"t":50,"h":0.64,"l":-0.66},{"t":50.25,"h":0.78,"l":-0.78},{"t":50.5,"h":0.64,"l":-0.66},{"t":50.75,"h":0.62,"l":-0.64},
{"t":51,"h":0.65,"l":-0.67},{"t":51.25,"h":0.66,"l":-0.68},{"t":51.5,"h":0.63,"l":-0.65},{"t":51.75,"h":0.64,"l":-0.66},
{"t":52,"h":0.65,"l":-0.67},{"t":52.25,"h":0.7,"l":-0.73},{"t":52.5,"h":0.66,"l":-0.68},{"t":52.75,"h":0.62,"l":-0.65},
{"t":53,"h":0.6,"l":-0.62},{"t":53.25,"h":0.64,"l":-0.66},{"t":53.5,"h":0.62,"l":-0.64},{"t":53.75,"h":0.68,"l":-0.7},
{"t":54,"h":0.55,"l":-0.58},{"t":54.25,"h":0.62,"l":-0.64},{"t":54.5,"h":0.64,"l":-0.66},{"t":54.75,"h":0.66,"l":-0.68},
{"t":55,"h":0.7,"l":-0.72},{"t":55.25,"h":0.68,"l":-0.7},{"t":55.5,"h":0.74,"l":-0.75},{"t":55.75,"h":0.7,"l":-0.72},
{"t":56,"h":0.65,"l":-0.66},{"t":56.25,"h":0.64,"l":-0.65},{"t":56.5,"h":0.5,"l":-0.5},{"t":56.75,"h":0.62,"l":-0.64},
{"t":57,"h":0.62,"l":-0.64},{"t":57.25,"h":0.66,"l":-0.68},{"t":57.5,"h":0.64,"l":-0.66},{"t":57.75,"h":0.7,"l":-0.7},
{"t":58,"h":0.66,"l":-0.68},{"t":58.25,"h":0.64,"l":-0.66},{"t":58.5,"h":0.68,"l":-0.7},{"t":58.75,"h":0.62,"l":-0.64},
{"t":59,"h":0.63,"l":-0.65},{"t":59.25,"h":0.65,"l":-0.67},{"t":59.5,"h":0.38,"l":-0.35},{"t":59.75,"h":0.6,"l":-0.62},
{"t":60,"h":0.72,"l":-0.72},{"t":60.25,"h":0.64,"l":-0.66},{"t":60.5,"h":0.62,"l":-0.64},{"t":60.75,"h":0.63,"l":-0.65},
{"t":61,"h":0.65,"l":-0.66},{"t":61.25,"h":0.68,"l":-0.69},{"t":61.5,"h":0.63,"l":-0.64},{"t":61.75,"h":0.6,"l":-0.62},
{"t":62,"h":0.58,"l":-0.6}
]
},
"vconcat":[
{"hconcat":[
 {"width":1,"height":1,"view":{"stroke":null},"data":{"values":[{"k":""}]},"mark":{"type":"text"},"encoding":{"text":{"field":"k"}}},
 {
 "width":888,"height":290,
 "title":{"text":"BLUES"},
 "encoding":{
  "x":{"field":"t","type":"quantitative","scale":{"domain":[-3.08,64.71],"nice":false,"zero":false},
   "axis":{"values":[0,10,20,30,40,50,60],"labelExpr":"floor(datum.value/60) + ':' + (datum.value%60 < 10 ? '0' : '') + (datum.value%60)","title":"Time"}}
 },
 "layer":[
  {"data":{"name":"bluescore"},
   "mark":{"type":"area","color":"#1f77b4","interpolate":"linear"},
   "encoding":{"y":{"field":"c","type":"quantitative","scale":{"domain":[-0.982,0.986],"nice":false,"zero":false},"axis":{"values":[-0.75,-0.5,-0.25,0,0.25,0.5,0.75],"format":".2f","title":null,"labelPadding":8}},"y2":{"field":"n"}}},
  {"data":{"name":"blues"},
   "mark":{"type":"rule","color":"#1f77b4","strokeWidth":2.8},
   "encoding":{"y":{"field":"h","type":"quantitative","scale":{"domain":[-0.982,0.986],"nice":false,"zero":false},"axis":{"values":[-0.75,-0.5,-0.25,0,0.25,0.5,0.75],"format":".2f","title":null,"labelPadding":8}},"y2":{"field":"l"}}}
 ]
 }
],"spacing":0},
{
 "width":941,"height":39,
 "view":{"fill":"#2c2b52","stroke":null},
 "data":{"values":[{"k":""}]},
 "mark":{"type":"text"},
 "encoding":{"text":{"field":"k"}}
},
{"hconcat":[
 {"width":1,"height":1,"view":{"stroke":null},"data":{"values":[{"k":""}]},"mark":{"type":"text"},"encoding":{"text":{"field":"k"}}},
 {
 "width":895,"height":292,
 "title":{"text":"CLASSICAL"},
 "data":{"name":"classical"},
 "mark":{"type":"area","color":"#1f77b4","interpolate":"linear","strokeWidth":0.8,"stroke":"#1f77b4"},
 "encoding":{
  "x":{"field":"t","type":"quantitative","scale":{"domain":[-3.08,65.24],"nice":false,"zero":false},
   "axis":{"values":[0,10,20,30,40,50,60],"labelExpr":"floor(datum.value/60) + ':' + (datum.value%60 < 10 ? '0' : '') + (datum.value%60)","title":"Time"}},
  "y":{"field":"h","type":"quantitative","scale":{"domain":[-0.38,0.381],"nice":false,"zero":false},
   "axis":{"values":[-0.3,-0.2,-0.1,0,0.1,0.2,0.3],"format":".1f","title":null,"labelPadding":6.5}},
  "y2":{"field":"l"}
 }
 }
],"spacing":0},
{
 "width":941,"height":38,
 "view":{"fill":"#2c2b52","stroke":null},
 "data":{"values":[{"k":""}]},
 "mark":{"type":"text"},
 "encoding":{"text":{"field":"k"}}
},
{"hconcat":[
 {"width":1,"height":1,"view":{"stroke":null},"data":{"values":[{"k":""}]},"mark":{"type":"text"},"encoding":{"text":{"field":"k"}}},
 {
 "width":895,"height":292,
 "title":{"text":"COUNTRY"},
 "encoding":{
  "x":{"field":"t","type":"quantitative","scale":{"domain":[-3.08,65.4],"nice":false,"zero":false},
   "axis":{"values":[0,10,20,30,40,50,60],"labelExpr":"floor(datum.value/60) + ':' + (datum.value%60 < 10 ? '0' : '') + (datum.value%60)","title":"Time"}}
 },
 "layer":[
  {"data":{"name":"countrycore"},
   "mark":{"type":"area","color":"#1f77b4","interpolate":"linear"},
   "encoding":{"y":{"field":"c","type":"quantitative","scale":{"domain":[-0.857,0.863],"nice":false,"zero":false},"axis":{"values":[-0.8,-0.6,-0.4,-0.2,0,0.2,0.4,0.6,0.8],"format":".1f","title":null,"labelPadding":6.5}},"y2":{"field":"n"}}},
  {"data":{"name":"country"},
   "mark":{"type":"rule","color":"#1f77b4","strokeWidth":2.8},
   "encoding":{"y":{"field":"h","type":"quantitative","scale":{"domain":[-0.857,0.863],"nice":false,"zero":false},"axis":{"values":[-0.8,-0.6,-0.4,-0.2,0,0.2,0.4,0.6,0.8],"format":".1f","title":null,"labelPadding":6.5}},"y2":{"field":"l"}}}
 ]
 }
],"spacing":0}
]
}
